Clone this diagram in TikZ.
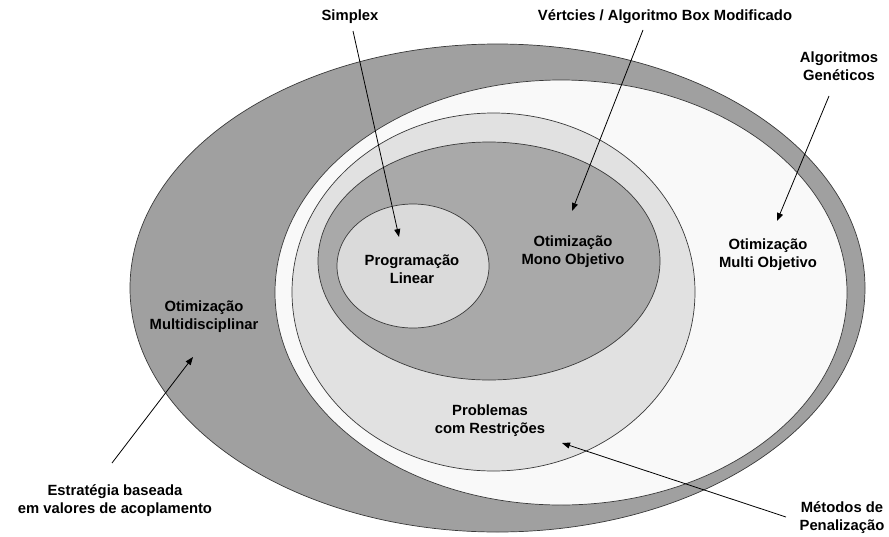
\documentclass[tikz,border=0pt]{standalone}
\usepackage{fontspec}
\setmainfont{Liberation Sans}
\usetikzlibrary{arrows.meta}
\definecolor{ringdark}{HTML}{A0A0A0}
\definecolor{ringwhite}{HTML}{F9F9F9}
\definecolor{ringlight}{HTML}{E1E1E1}
\definecolor{ringmid}{HTML}{A9A9A9}
\definecolor{ringsmall}{HTML}{DADADA}
\definecolor{edge}{HTML}{3A3A3A}
\tikzset{
  region/.style={draw=edge, line width=0.7pt},
  lbl/.style={font=\fontsize{14.8}{18}\selectfont\bfseries, align=center, inner sep=0pt},
  pointer/.style={draw=black, line width=0.8pt, -{Triangle[length=8pt,width=6pt]}}
}
\begin{document}
\begin{tikzpicture}[x=1pt,y=-1pt]
\useasboundingbox (0,0) rectangle (889,536);
% regions
\coordinate (cOuter) at (497.5,288);
\coordinate (cWhite) at (561,292.5);
\coordinate (cLight) at (493.5,292);
\coordinate (cMid) at (489,261);
\coordinate (cSmall) at (413,266);
\draw[region, fill=ringdark] (cOuter) ellipse [x radius=367.5pt, y radius=244pt];
\draw[region, fill=ringwhite] (cWhite) ellipse [x radius=286pt, y radius=212.5pt];
\draw[region, fill=ringlight] (cLight) ellipse [x radius=201.5pt, y radius=179pt];
\draw[region, fill=ringmid] (cMid) ellipse [x radius=171pt, y radius=119pt];
\draw[region, fill=ringsmall] (cSmall) ellipse [x radius=76pt, y radius=62pt];
% labels
\node[lbl] (simplex) at (350,17) {Simplex};
\node[lbl] (vertices) at (665,17) {Vértcies / Algoritmo Box Modificado};
\node[lbl] (genetic) at (839,66) {Algoritmos\\Genéticos};
\node[lbl] (linear) at (412,269) {Programação\\Linear};
\node[lbl] (mono) at (573,252) {Otimização\\Mono Objetivo};
\node[lbl] (multi) at (768,255) {Otimização\\Multi Objetivo};
\node[lbl] (mdo) at (204,317) {Otimização\\Multidisciplinar};
\node[lbl] (constr) at (490,421) {Problemas\\com Restrições};
\node[lbl] (coupling) at (115,501) {Estratégia baseada\\em valores de acoplamento};
\node[lbl] (penalty) at (842,518) {Métodos de\\Penalização};
% arrow end points
\coordinate (simS) at (353,31);
\coordinate (simE) at (399,237);
\coordinate (verS) at (643,30);
\coordinate (verE) at (572,211);
\coordinate (genS) at (829,96);
\coordinate (genE) at (777,221);
\coordinate (mdS) at (112,463);
\coordinate (mdE) at (193,357);
\coordinate (penS) at (786,517);
\coordinate (penE) at (562,443);
\draw[pointer] (simS) -- (simE);
\draw[pointer] (verS) -- (verE);
\draw[pointer] (genS) -- (genE);
\draw[pointer] (mdS) -- (mdE);
\draw[pointer] (penS) -- (penE);
\end{tikzpicture}
\end{document}
